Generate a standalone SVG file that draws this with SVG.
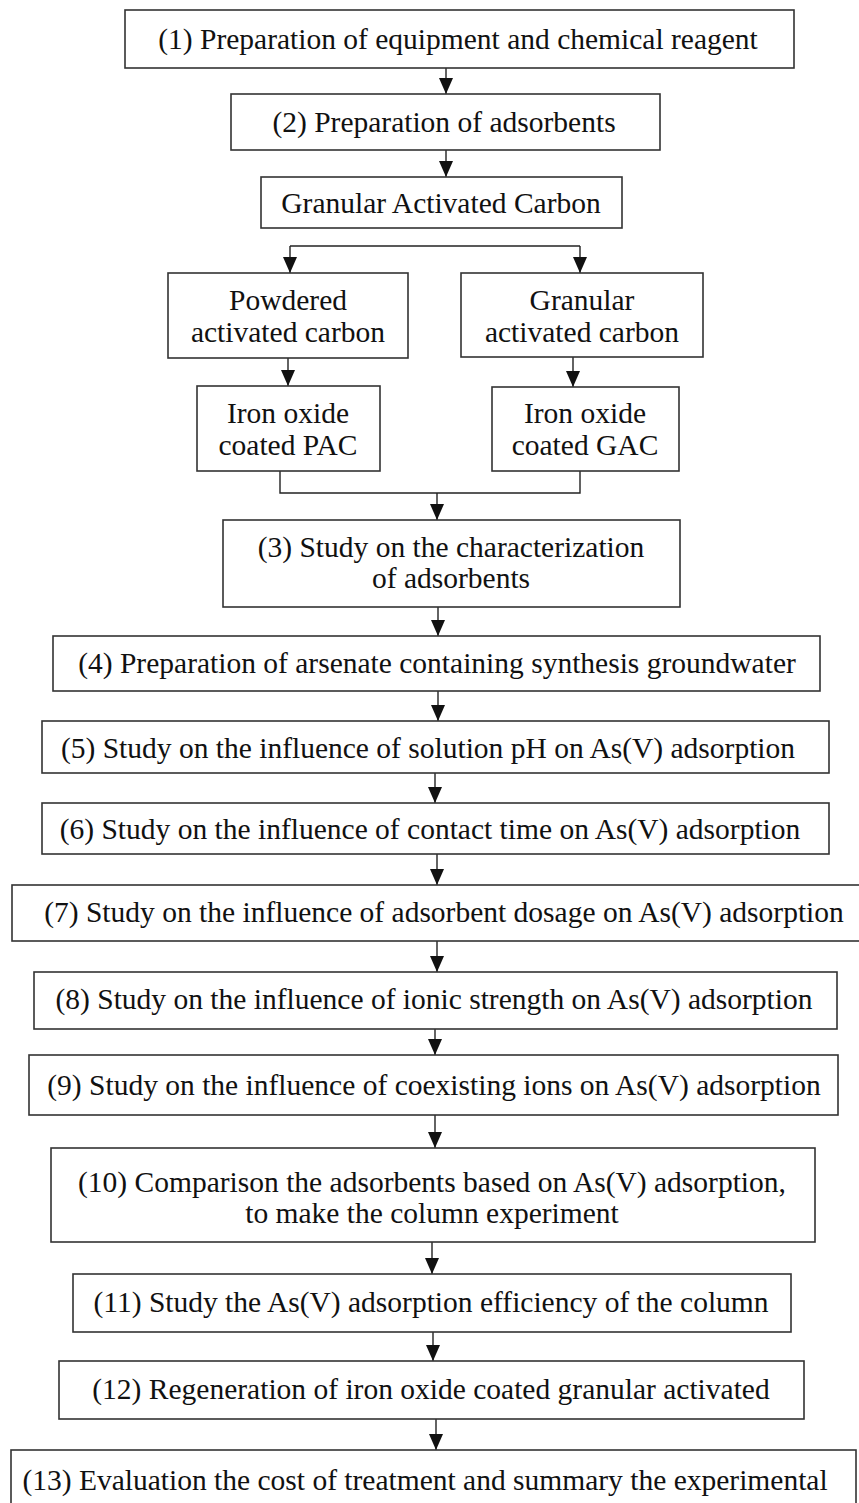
<svg xmlns="http://www.w3.org/2000/svg" width="859" height="1503" viewBox="0 0 859 1503">
<style>
.box{fill:#fff;stroke:#333;stroke-width:1.6}
.t{font-family:"Liberation Serif","Times New Roman",serif;font-size:29.5px;fill:#111;text-anchor:middle}
.c{fill:none;stroke:#222;stroke-width:1.4}
</style>
<defs>
<marker id="ah" markerUnits="userSpaceOnUse" markerWidth="16" markerHeight="14" refX="16" refY="7" orient="auto" viewBox="0 0 16 14">
<path d="M0,0 L16,7 L0,14 Z" fill="#111"/>
</marker>
</defs>
<rect width="859" height="1503" fill="#fff"/>
<g id="connectors">
<line class="c" x1="446" y1="68" x2="446" y2="94" marker-end="url(#ah)"/>
<line class="c" x1="446" y1="150" x2="446" y2="177" marker-end="url(#ah)"/>
<line class="c" x1="290" y1="246" x2="580" y2="246"/>
<line class="c" x1="290" y1="246" x2="290" y2="273" marker-end="url(#ah)"/>
<line class="c" x1="580" y1="246" x2="580" y2="273" marker-end="url(#ah)"/>
<line class="c" x1="288" y1="358" x2="288" y2="386" marker-end="url(#ah)"/>
<line class="c" x1="573" y1="357" x2="573" y2="387" marker-end="url(#ah)"/>
<polyline class="c" points="280,471 280,493 580,493 580,471"/>
<line class="c" x1="437" y1="493" x2="437" y2="520" marker-end="url(#ah)"/>
<line class="c" x1="438" y1="607" x2="438" y2="636" marker-end="url(#ah)"/>
<line class="c" x1="438" y1="691" x2="438" y2="721" marker-end="url(#ah)"/>
<line class="c" x1="435" y1="773" x2="435" y2="803" marker-end="url(#ah)"/>
<line class="c" x1="437" y1="854" x2="437" y2="885" marker-end="url(#ah)"/>
<line class="c" x1="437" y1="941" x2="437" y2="972" marker-end="url(#ah)"/>
<line class="c" x1="435" y1="1029" x2="435" y2="1055" marker-end="url(#ah)"/>
<line class="c" x1="435" y1="1115" x2="435" y2="1148" marker-end="url(#ah)"/>
<line class="c" x1="432" y1="1242" x2="432" y2="1274" marker-end="url(#ah)"/>
<line class="c" x1="433" y1="1332" x2="433" y2="1361" marker-end="url(#ah)"/>
<line class="c" x1="436" y1="1419" x2="436" y2="1450" marker-end="url(#ah)"/>
</g>
<g id="n1"><rect class="box" x="125" y="10" width="669" height="58"/><text class="t" x="458" y="49">(1) Preparation of equipment and chemical reagent</text></g>
<g id="n2"><rect class="box" x="231" y="94" width="429" height="56"/><text class="t" x="444" y="132">(2) Preparation of adsorbents</text></g>
<g id="n_gac"><rect class="box" x="261" y="177" width="361" height="51"/><text class="t" x="441" y="213">Granular Activated Carbon</text></g>
<g id="n_pac_raw"><rect class="box" x="168" y="273" width="240" height="85"/><text class="t" x="288" y="310">Powdered</text><text class="t" x="288" y="342">activated carbon</text></g>
<g id="n_gac_raw"><rect class="box" x="461" y="273" width="242" height="84"/><text class="t" x="582" y="310">Granular</text><text class="t" x="582" y="342">activated carbon</text></g>
<g id="n_iopac"><rect class="box" x="197" y="386" width="183" height="85"/><text class="t" x="288" y="423">Iron oxide</text><text class="t" x="288" y="455">coated PAC</text></g>
<g id="n_iogac"><rect class="box" x="492" y="387" width="187" height="84"/><text class="t" x="585" y="423">Iron oxide</text><text class="t" x="585" y="455">coated GAC</text></g>
<g id="n3"><rect class="box" x="223" y="520" width="457" height="87"/><text class="t" x="451" y="557">(3) Study on the characterization</text><text class="t" x="451" y="588">of adsorbents</text></g>
<g id="n4"><rect class="box" x="53" y="636" width="767" height="55"/><text class="t" x="437" y="673">(4) Preparation of arsenate containing synthesis groundwater</text></g>
<g id="n5"><rect class="box" x="42" y="721" width="787" height="52"/><text class="t" x="428" y="758">(5) Study on the influence of solution pH on As(V) adsorption</text></g>
<g id="n6"><rect class="box" x="42" y="803" width="787" height="51"/><text class="t" x="430" y="839">(6) Study on the influence of contact time on As(V) adsorption</text></g>
<g id="n7"><rect class="box" x="12" y="885" width="852" height="56"/><text class="t" x="444" y="922">(7) Study on the influence of adsorbent dosage on As(V) adsorption</text></g>
<g id="n8"><rect class="box" x="34" y="972" width="803" height="57"/><text class="t" x="434" y="1009">(8) Study on the influence of ionic strength on As(V) adsorption</text></g>
<g id="n9"><rect class="box" x="29" y="1055" width="809" height="60"/><text class="t" x="434" y="1095">(9) Study on the influence of coexisting ions on As(V) adsorption</text></g>
<g id="n10"><rect class="box" x="51" y="1148" width="764" height="94"/><text class="t" x="432" y="1192">(10) Comparison the adsorbents based on As(V) adsorption,</text><text class="t" x="432" y="1223">to make the column experiment</text></g>
<g id="n11"><rect class="box" x="73" y="1274" width="718" height="58"/><text class="t" x="431" y="1312">(11) Study the As(V) adsorption efficiency of the column</text></g>
<g id="n12"><rect class="box" x="59" y="1361" width="745" height="58"/><text class="t" x="431" y="1399">(12) Regeneration of iron oxide coated granular activated</text></g>
<g id="n13"><rect class="box" x="11" y="1450" width="845" height="90"/><text class="t" x="425" y="1490">(13) Evaluation the cost of treatment and summary the experimental</text></g>
</svg>
